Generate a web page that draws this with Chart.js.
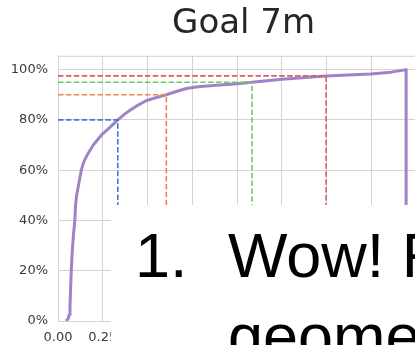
<!DOCTYPE html>
<html>
<head>
<meta charset="utf-8">
<script src="https://cdn.jsdelivr.net/npm/chart.js@4/dist/chart.umd.min.js"></script>
<style>
  html, body { margin: 0; padding: 0; background: #fff; overflow: hidden; width: 415px; height: 345px; }
  #wrap { position: relative; width: 440px; height: 345px; }
  #chart { position: absolute; left: 0; top: 0; }
  #note {
    position: absolute; left: 111px; top: 205px; width: 400px; height: 200px;
    background: #fff; font-family: "Liberation Sans", Arial, sans-serif;
    font-size: 63px; line-height: 81px; color: #000;
  }
  #note .num { position: absolute; left: 24px; top: 10px; }
  #note .txt { position: absolute; left: 117px; top: 10px; white-space: nowrap; }
</style>
</head>
<body>
<div id="wrap">
  <canvas id="chart" width="440" height="345"></canvas>
  <div id="note"><span class="num">1.</span><span class="txt">Wow! F<br>geome</span></div>
</div>
<script>
// Cumulative share of attempts reaching the goal, by normalised value
const cdfX = [0.044, 0.056, 0.063, 0.067, 0.070, 0.074, 0.079, 0.086, 0.094, 0.098, 0.104, 0.112,
              0.121, 0.130, 0.145, 0.163, 0.180, 0.197, 0.220, 0.243, 0.270, 0.300, 0.334, 0.370,
              0.400, 0.450, 0.494, 0.550, 0.605, 0.660, 0.717, 0.780, 0.885, 1.000, 1.083, 1.250,
              1.497, 1.744, 1.860, 1.944, 1.944];
const cdfY = [0.000, 0.008, 0.025, 0.060, 0.120, 0.200, 0.270, 0.340, 0.400, 0.460, 0.500, 0.530,
              0.565, 0.600, 0.635, 0.660, 0.680, 0.700, 0.720, 0.740, 0.757, 0.777, 0.800, 0.822,
              0.837, 0.860, 0.877, 0.889, 0.900, 0.913, 0.925, 0.932, 0.938, 0.944, 0.950, 0.962,
              0.975, 0.983, 0.990, 1.000, 0.000];

// Percentile markers: level and the value where the curve reaches it
const pctLevels = [0.80, 0.90, 0.95, 0.975];
const pctValues = [0.334, 0.605, 1.083, 1.497];
const pctColors = ['#4878d0', '#ee854a', '#6acc64', '#d65f5f'];

const xTicks = [0, 0.25, 0.5, 0.75, 1.0, 1.25, 1.5, 1.75, 2.0];
const yTicks = [0, 0.2, 0.4, 0.6, 0.8, 1.0];

const gridColor = '#d3d3d3';
const tickFont = { family: 'DejaVu Sans', size: 13 };

const markerSets = pctLevels.map((lvl, i) => ({
  data: [{ x: 0, y: lvl }, { x: pctValues[i], y: lvl }, { x: pctValues[i], y: 0 }],
  borderColor: pctColors[i],
  borderWidth: 1.6,
  borderDash: [5.5, 2.4],
  pointRadius: 0,
  tension: 0,
  fill: false
}));

const curveSet = {
  data: cdfX.map((x, i) => ({ x, y: cdfY[i] })),
  borderColor: '#9f82c8',
  borderWidth: 3,
  borderJoinStyle: 'round',
  pointRadius: 0,
  tension: 0,
  fill: false
};

// Thin frame line along the top of the plot area
const topFrame = {
  id: 'topFrame',
  beforeDatasetsDraw(chart) {
    const { ctx, chartArea } = chart;
    ctx.save();
    ctx.strokeStyle = gridColor;
    ctx.lineWidth = 1;
    ctx.beginPath();
    ctx.moveTo(chartArea.left, chartArea.top + 0.5);
    ctx.lineTo(chartArea.right, chartArea.top + 0.5);
    ctx.stroke();
    ctx.restore();
  }
};

new Chart(document.getElementById('chart'), {
  type: 'line',
  data: { datasets: [...markerSets, curveSet] },
  options: {
    responsive: false,
    animation: false,
    events: [],
    layout: { padding: { left: 0, right: 10, top: 0, bottom: 0 } },
    plugins: {
      legend: { display: false },
      tooltip: { enabled: false },
      title: {
        display: true,
        text: 'Goal 7m',
        fullSize: false,
        color: '#262626',
        font: { family: 'DejaVu Sans', size: 34, weight: 'normal' },
        padding: { top: 4, bottom: 11 }
      }
    },
    scales: {
      x: {
        type: 'linear',
        min: 0,
        max: 2.073,
        afterBuildTicks: s => { s.ticks = xTicks.map(v => ({ value: v })); },
        afterFit: s => { s.height = 24; },
        ticks: {
          callback: v => Number(v).toFixed(2),
          font: tickFont,
          color: '#3a3a3a',
          padding: 9,
          maxRotation: 0,
          autoSkip: false
        },
        grid: { color: gridColor, drawTicks: false },
        border: { display: false }
      },
      y: {
        min: 0,
        max: 1.055,
        afterBuildTicks: s => { s.ticks = yTicks.map(v => ({ value: v })); },
        afterFit: s => { s.width = 58; },
        ticks: {
          callback: v => Math.round(v * 100) + '%',
          font: tickFont,
          color: '#3a3a3a',
          padding: 10
        },
        grid: { color: gridColor, drawTicks: false },
        border: { display: true, color: gridColor }
      }
    }
  },
  plugins: [topFrame]
});
</script>
</body>
</html>
